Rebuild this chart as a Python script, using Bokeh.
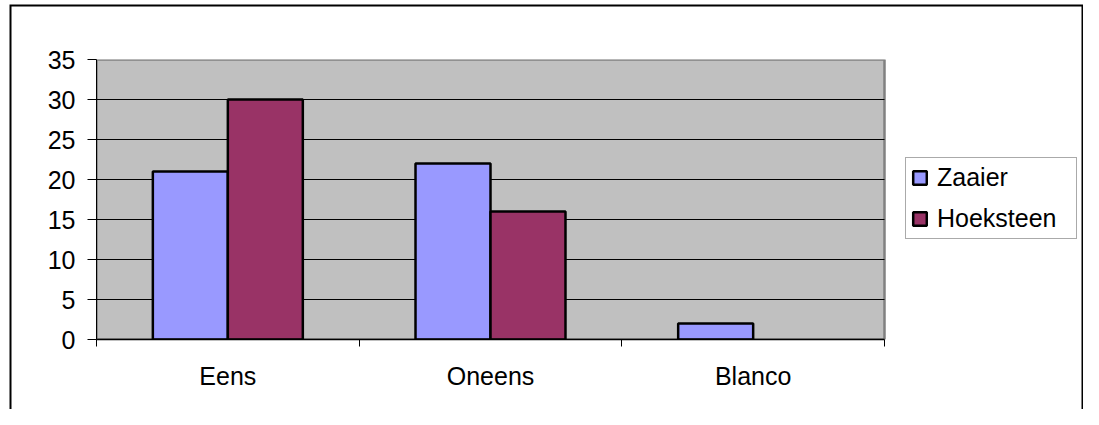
from bokeh.plotting import figure
from bokeh.models import (ColumnDataSource, Range1d, FixedTicker, Legend, LegendItem)
from bokeh.transform import dodge
from bokeh.embed import file_html
from bokeh.resources import INLINE

categories = ["Eens", "Oneens", "Blanco"]
zaaier = [21, 22, 2]
hoeksteen = [30, 16, 0]
series_names = ["Zaaier", "Hoeksteen"]
y_ticks = [0, 5, 10, 15, 20, 25, 30, 35]

FONT = "Liberation Sans"
n = len(categories)
centers = [i + 0.5 for i in range(n)]
bounds = [float(i) for i in range(n + 1)]

# layout (pixels)
W, H = 1083, 409
LEFT, TOP, BOTTOM = 96, 59, 70
AREA_W = 788                      # width of the grey plot area
FRAME_W = W - LEFT
x_end = n * FRAME_W / AREA_W      # frame extends to the right to hold the legend

src = ColumnDataSource(dict(
    x=centers, cat=categories, zaaier=zaaier, hoeksteen=hoeksteen,
    z_line=[1.0 if v > 0 else 0.0 for v in zaaier],
    h_line=[1.0 if v > 0 else 0.0 for v in hoeksteen],
))

p = figure(width=W, height=H, output_backend="svg", toolbar_location=None,
           x_range=Range1d(0, x_end), y_range=Range1d(y_ticks[0], y_ticks[-1]),
           min_border_left=LEFT, min_border_right=0, min_border_top=TOP, min_border_bottom=BOTTOM)

p.border_fill_color = None
p.background_fill_color = None
p.outline_line_color = None
p.styles = {
    "background-color": "white",
    "box-shadow": ("inset 0 4.5px 0 0 #fff, inset 9.5px 0 0 0 #fff, "
                   "inset 0 6.5px 0 0 #000, inset 11.5px 0 0 0 #000, inset -1.5px 0 0 0 #000"),
}

# grey plot area with its border
p.quad(left=0, right=n, bottom=y_ticks[0], top=y_ticks[-1],
       fill_color="#C0C0C0", line_color="#808080", line_width=2.5)
# horizontal grid lines
p.segment(x0=[0] * len(y_ticks[1:-1]), x1=[n] * len(y_ticks[1:-1]),
          y0=y_ticks[1:-1], y1=y_ticks[1:-1], line_color="black", line_width=1)

bw = 0.2855
r1 = p.vbar(x=dodge("x", -bw / 2, range=p.x_range), top="zaaier", width=bw, source=src,
            fill_color="#9999FF", line_color="black", line_width=2.5, line_alpha="z_line")
r2 = p.vbar(x=dodge("x", bw / 2, range=p.x_range), top="hoeksteen", width=bw, source=src,
            fill_color="#993366", line_color="black", line_width=2.5, line_alpha="h_line")

p.xgrid.visible = False
p.ygrid.visible = False

# y axis
p.yaxis.ticker = FixedTicker(ticks=y_ticks)
p.yaxis.axis_line_color = "black"
p.yaxis.axis_line_width = 1
p.yaxis.major_tick_in = 0
p.yaxis.major_tick_out = 9
p.yaxis.major_tick_line_color = "black"
p.yaxis.minor_tick_line_color = None
p.yaxis.major_label_standoff = 12
p.yaxis.major_label_text_font = FONT
p.yaxis.major_label_text_font_size = "25px"
p.yaxis.major_label_text_color = "black"

# x axis: labels at category centres, tick marks at category boundaries
p.xaxis.bounds = (0, n)
p.xaxis.ticker = FixedTicker(ticks=centers, minor_ticks=bounds)
p.xaxis.major_label_overrides = {c: name for c, name in zip(centers, categories)}
p.xaxis.axis_line_color = "black"
p.xaxis.axis_line_width = 1.5
p.xaxis.major_tick_in = 0
p.xaxis.major_tick_out = 0
p.xaxis.minor_tick_in = 0
p.xaxis.minor_tick_out = 7
p.xaxis.minor_tick_line_color = "black"
p.xaxis.major_label_standoff = 15
p.xaxis.major_label_text_font = FONT
p.xaxis.major_label_text_font_size = "25px"
p.xaxis.major_label_text_color = "black"

legend = Legend(items=[LegendItem(label=series_names[0], renderers=[r1]),
                       LegendItem(label=series_names[1], renderers=[r2])],
                location=(809, 100))
legend.label_text_font = FONT
legend.label_text_font_size = "25px"
legend.label_text_color = "black"
legend.border_line_color = "#555555"
legend.border_line_width = 1.5
legend.background_fill_color = "white"
legend.background_fill_alpha = 1
legend.padding = 5
legend.spacing = 12
legend.glyph_width = 17
legend.glyph_height = 17
legend.label_standoff = 9
legend.label_width = 134
legend.label_height = 20
legend.margin = 0
p.add_layout(legend, "center")

open("out.html", "w").write(file_html(p, INLINE))
